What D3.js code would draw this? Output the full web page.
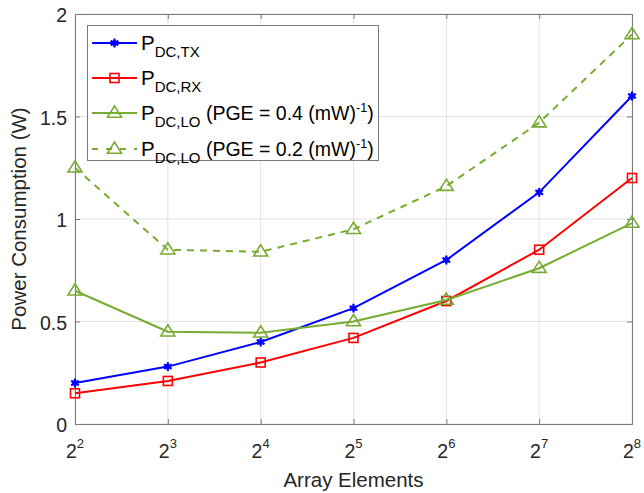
<!DOCTYPE html>
<html>
<head>
<meta charset="utf-8">
<script src="https://cdn.jsdelivr.net/npm/d3@7"></script>
<style>
  body { margin: 0; background: #fff; }
  svg { display: block; font-family: "Liberation Sans", Arial, sans-serif; }
</style>
</head>
<body>
<svg id="chart" width="644" height="493"></svg>
<script>
// Array sizes as powers of two
const exponents = [2, 3, 4, 5, 6, 7, 8];
const yTicks = [0, 0.5, 1, 1.5, 2];

// Power consumption (W)
const pTX = [0.2, 0.28, 0.4, 0.565, 0.8, 1.13, 1.6];
const pRX = [0.15, 0.21, 0.3, 0.42, 0.6, 0.85, 1.2];
const pLO04 = [0.65, 0.45, 0.445, 0.5, 0.605, 0.76, 0.98];
const pLO02 = [1.25, 0.85, 0.84, 0.95, 1.16, 1.47, 1.9];

const series = [
  { values: pTX, color: "#0000ff", marker: "star", dash: null, sub: "DC,TX", extra: null },
  { values: pRX, color: "#ff0000", marker: "square", dash: null, sub: "DC,RX", extra: null },
  { values: pLO04, color: "#77ac30", marker: "triangle", dash: null, sub: "DC,LO", extra: "0.4" },
  { values: pLO02, color: "#77ac30", marker: "triangle", dash: "7,6", sub: "DC,LO", extra: "0.2" }
];

const svg = d3.select("#chart");
const mLeft = 75, mRight = 632, mTop = 14, mBottom = 424;

const x = d3.scaleLinear().domain([2, 8]).range([mLeft, mRight]);
const y = d3.scaleLinear().domain([0, 2]).range([mBottom, mTop]);

const axisColor = "#7a7a7a";
const gridColor = "#e3e3e3";
const textColor = "#262626";

// Grid
const g = svg.append("g");
g.selectAll(".gx").data(exponents).enter().append("line")
  .attr("x1", d => x(d)).attr("x2", d => x(d))
  .attr("y1", mTop).attr("y2", mBottom)
  .attr("stroke", gridColor).attr("stroke-width", 1);
g.selectAll(".gy").data(yTicks).enter().append("line")
  .attr("x1", mLeft).attr("x2", mRight)
  .attr("y1", d => y(d)).attr("y2", d => y(d))
  .attr("stroke", gridColor).attr("stroke-width", 1);

// Axes (ticks inward, box on all four sides)
const xAxis = d3.axisBottom(x).tickValues(exponents).tickSize(-5).tickFormat("");
const xAxisTop = d3.axisTop(x).tickValues(exponents).tickSize(-5).tickFormat("");
const yAxis = d3.axisLeft(y).tickValues(yTicks).tickSize(-5).tickFormat("");
const yAxisRight = d3.axisRight(y).tickValues(yTicks).tickSize(-5).tickFormat("");

function styleAxis(sel) {
  sel.selectAll("path").attr("stroke", axisColor).attr("stroke-width", 1);
  sel.selectAll("line").attr("stroke", axisColor).attr("stroke-width", 1);
}
svg.append("g").attr("transform", `translate(0,${mBottom})`).call(xAxis).call(styleAxis);
svg.append("g").attr("transform", `translate(0,${mTop})`).call(xAxisTop).call(styleAxis);
svg.append("g").attr("transform", `translate(${mLeft},0)`).call(yAxis).call(styleAxis);
svg.append("g").attr("transform", `translate(${mRight},0)`).call(yAxisRight).call(styleAxis);

// Tick labels: powers of two
const xl = svg.append("g");
exponents.forEach(e => {
  const t = xl.append("text").attr("x", x(e)).attr("y", 458)
    .attr("text-anchor", "middle").attr("fill", textColor).attr("font-size", 19.5);
  t.append("tspan").text("2");
  t.append("tspan").attr("dy", -10).attr("font-size", 13).text(e);
});
svg.append("g").selectAll("text").data(yTicks).enter().append("text")
  .attr("x", 67).attr("y", d => y(d) + 8)
  .attr("text-anchor", "end").attr("font-size", 19.5).attr("fill", textColor)
  .text(d => d3.format("~g")(d));

// Axis titles
svg.append("text").attr("x", (mLeft + mRight) / 2).attr("y", 487)
  .attr("text-anchor", "middle").attr("font-size", 20.5).attr("fill", textColor)
  .text("Array Elements");
svg.append("text").attr("transform", `translate(26,${(mTop + mBottom) / 2}) rotate(-90)`)
  .attr("text-anchor", "middle").attr("font-size", 20.5).attr("fill", textColor)
  .text("Power Consumption (W)");

// Marker drawing
function drawMarker(sel, type, color, cx, cy) {
  if (type === "star") {
    sel.append("path").attr("d", d3.symbol(d3.symbolAsterisk, 55)())
      .attr("transform", `translate(${cx},${cy})`)
      .attr("stroke", color).attr("stroke-width", 2.2).attr("fill", "none");
    sel.append("circle").attr("cx", cx).attr("cy", cy).attr("r", 2.7).attr("fill", color);
  } else if (type === "square") {
    sel.append("rect").attr("x", cx - 4.5).attr("y", cy - 4.5).attr("width", 9).attr("height", 9)
      .attr("fill", "none").attr("stroke", color).attr("stroke-width", 1.6);
  } else {
    const s = 7;
    sel.append("path")
      .attr("d", `M${cx},${cy - s}L${cx + s},${cy + s * 0.6}L${cx - s},${cy + s * 0.6}Z`)
      .attr("fill", "none").attr("stroke", color).attr("stroke-width", 1.6);
  }
}

const line = d3.line().x((d, i) => x(exponents[i])).y(d => y(d));

const plot = svg.append("g");
series.forEach(s => {
  plot.append("path").datum(s.values).attr("d", line)
    .attr("fill", "none").attr("stroke", s.color).attr("stroke-width", 2)
    .attr("stroke-dasharray", s.dash);
  const mg = plot.append("g");
  s.values.forEach((v, i) => drawMarker(mg, s.marker, s.color, x(exponents[i]), y(v)));
});

// Legend
const lg = svg.append("g");
lg.append("rect").attr("x", 87.5).attr("y", 25.5).attr("width", 291).attr("height", 135)
  .attr("fill", "#fff").attr("stroke", axisColor).attr("stroke-width", 1);
const rowY = [43, 78, 113, 149];
series.forEach((s, i) => {
  const ry = rowY[i];
  lg.append("line").attr("x1", 92).attr("x2", 137).attr("y1", ry).attr("y2", ry)
    .attr("stroke", s.color).attr("stroke-width", 2).attr("stroke-dasharray", s.dash ? "6,8" : null);
  drawMarker(lg, s.marker, s.color, 114.5, ry);
  const t = lg.append("text").attr("x", 141).attr("y", ry + 7).attr("font-size", 20.5).attr("fill", "#000");
  t.append("tspan").text("P");
  t.append("tspan").attr("dy", 7).attr("font-size", 15).text(s.sub);
  if (s.extra) {
    t.append("tspan").attr("dy", -7).attr("font-size", 19.5).text(` (PGE = ${s.extra} (mW)`);
    t.append("tspan").attr("dy", -8).attr("font-size", 12.5).text("-1");
    t.append("tspan").attr("dy", 8).attr("font-size", 19.5).text(")");
  }
});
</script>
</body>
</html>
